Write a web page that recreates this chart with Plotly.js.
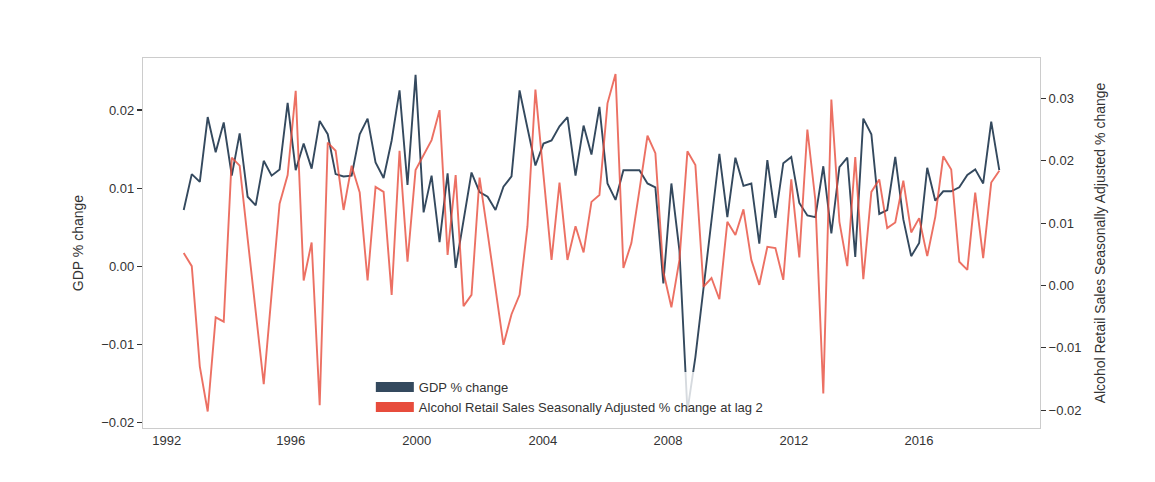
<!DOCTYPE html>
<html>
<head>
<meta charset="utf-8">
<script src="https://cdn.plot.ly/plotly-3.0.1.min.js"></script>
<style>
  html, body { margin: 0; padding: 0; background: #fff; }
  #chart { width: 1155px; height: 482px; }
</style>
</head>
<body>
<div id="chart"></div>
<script>
// quarterly series, first quarter is 1992 Q3
const firstYear = 1992;
const firstQuarter = 3;

// GDP % change (left axis)
const gdpChange = [
  0.0072, 0.0118, 0.0108, 0.0191, 0.0146, 0.0184, 0.0116, 0.0170, 0.0089, 0.0078,
  0.0135, 0.0116, 0.0124, 0.0209, 0.0123, 0.0157, 0.0125, 0.0186, 0.0169, 0.0118,
  0.0115, 0.0116, 0.0169, 0.0189, 0.0133, 0.0113, 0.0161, 0.0225, 0.0104, 0.0245,
  0.0069, 0.0116, 0.0031, 0.0119, -0.0002, 0.0059, 0.0120, 0.0095, 0.0089, 0.0072,
  0.0102, 0.0115, 0.0225, 0.0177, 0.0129, 0.0157, 0.0161, 0.0179, 0.0191, 0.0116,
  0.0180, 0.0143, 0.0204, 0.0106, 0.0085, 0.0123, 0.0123, 0.0123, 0.0106, 0.0101,
  -0.0022, 0.0106, 0.0020, -0.0185, -0.0116, -0.0028, 0.0056, 0.0144, 0.0063, 0.0139,
  0.0103, 0.0106, 0.0029, 0.0136, 0.0062, 0.0132, 0.0140, 0.0081, 0.0065, 0.0063,
  0.0128, 0.0042, 0.0127, 0.0139, 0.0012, 0.0189, 0.0169, 0.0067, 0.0072, 0.0140,
  0.0060, 0.0013, 0.0030, 0.0126, 0.0084, 0.0096, 0.0096, 0.0101, 0.0117, 0.0124,
  0.0106, 0.0185, 0.0123
];

// Alcohol retail sales, seasonally adjusted % change at lag 2 (right axis)
const alcoholChange = [
  0.0052, 0.0031, -0.0130, -0.0202, -0.0051, -0.0058, 0.0205, 0.0192, 0.0075, -0.0041,
  -0.0158, -0.0013, 0.0131, 0.0177, 0.0312, 0.0008, 0.0069, -0.0192, 0.0229, 0.0216,
  0.0121, 0.0192, 0.0149, 0.0008, 0.0158, 0.0150, -0.0015, 0.0216, 0.0038, 0.0185,
  0.0209, 0.0233, 0.0281, 0.0049, 0.0177, -0.0033, -0.0015, 0.0173, 0.0084, -0.0007,
  -0.0095, -0.0046, -0.0015, 0.0095, 0.0314, 0.0177, 0.0041, 0.0165, 0.0041, 0.0095,
  0.0053, 0.0134, 0.0145, 0.0292, 0.0339, 0.0028, 0.0068, 0.0153, 0.0240, 0.0212,
  0.0022, -0.0035, 0.0041, 0.0215, 0.0193, -0.0002, 0.0012, -0.0022, 0.0102, 0.0081,
  0.0122, 0.0041, 0.0001, 0.0062, 0.0060, 0.0009, 0.0170, 0.0045, 0.0250, 0.0137,
  -0.0173, 0.0298, 0.0102, 0.0031, 0.0206, 0.0010, 0.0150, 0.0170, 0.0092, 0.0101,
  0.0168, 0.0085, 0.0108, 0.0047, 0.0110, 0.0207, 0.0186, 0.0038, 0.0025, 0.0149,
  0.0044, 0.0165, 0.0184
];

const seriesNames = [
  'GDP % change',
  'Alcohol Retail Sales Seasonally Adjusted % change at lag 2'
];
// year labels and where the reference puts them on the time scale
const yearLabels = ['1992', '1996', '2000', '2004', '2008', '2012', '2016'];
const yearTickDates = ['1991-12-20', '1995-11-06', '1999-10-15', '2003-09-24',
                       '2007-08-22', '2011-07-31', '2015-06-28'];

// build the quarter start dates
const dates = [];
for (let i = 0; i < gdpChange.length; i++) {
  const q = firstQuarter - 1 + i;
  const y = firstYear + Math.floor(q / 4);
  const m = (q % 4) * 3 + 1;
  dates.push(y + '-' + String(m).padStart(2, '0') + '-01');
}

const navy = '#34495e';
const red = '#e74c3c';

const traces = [
  {
    x: dates, y: gdpChange, type: 'scatter', mode: 'lines',
    line: { color: navy, width: 1.9 }, showlegend: false, yaxis: 'y'
  },
  {
    x: dates, y: alcoholChange, type: 'scatter', mode: 'lines',
    line: { color: red, width: 1.9 }, opacity: 0.8, showlegend: false, yaxis: 'y2'
  },
  // legend patches only
  {
    x: [null], y: [null], type: 'scatter', mode: 'lines', name: seriesNames[0],
    line: { color: navy, width: 11 }
  },
  {
    x: [null], y: [null], type: 'scatter', mode: 'lines', name: seriesNames[1],
    line: { color: red, width: 11 }
  }
];

const fontFam = '"Liberation Sans", Arial, sans-serif';

const layout = {
  width: 1155,
  height: 482,
  margin: { l: 143, r: 115, t: 58, b: 54 },
  paper_bgcolor: '#fff',
  plot_bgcolor: '#fff',
  font: { family: fontFam, size: 13, color: '#333' },
  showlegend: true,
  legend: {
    x: 0.254, y: 0.151, xanchor: 'left', yanchor: 'top',
    bgcolor: 'rgba(255,255,255,0.8)',
    font: { family: fontFam, size: 13, color: '#333' },
    tracegroupgap: 0, itemwidth: 38
  },
  xaxis: {
    type: 'date',
    range: ['1991-03-24', '2019-04-11'],
    tickvals: yearTickDates,
    ticktext: yearLabels,
    showgrid: false, zeroline: false,
    showline: true, mirror: true, linecolor: '#cccccc', linewidth: 1.2,
    ticks: '', ticklen: 0,
    tickfont: { size: 13, color: '#333' }
  },
  yaxis: {
    range: [-0.02068, 0.02665],
    tickvals: [-0.02, -0.01, 0, 0.01, 0.02],
    tickformat: '.2f',
    showgrid: false, zeroline: false,
    showline: true, mirror: true, linecolor: '#cccccc', linewidth: 1.2,
    ticks: 'outside', ticklen: 5, tickwidth: 1.2, tickcolor: '#333',
    tickfont: { size: 13, color: '#333' },
    title: { text: 'GDP % change', font: { size: 14, color: '#333' }, standoff: 14 }
  },
  yaxis2: {
    overlaying: 'y', side: 'right', anchor: 'x',
    range: [-0.02284, 0.03646],
    tickvals: [-0.02, -0.01, 0, 0.01, 0.02, 0.03],
    tickformat: '.2f',
    showgrid: false, zeroline: false, showline: false,
    ticks: 'outside', ticklen: 5, tickwidth: 1.2, tickcolor: '#333',
    tickfont: { size: 13, color: '#333' },
    title: {
      text: 'Alcohol Retail Sales Seasonally Adjusted % change',
      font: { size: 14, color: '#333' }, standoff: 14
    }
  }
};

Plotly.newPlot('chart', traces, layout, { displayModeBar: false, staticPlot: true });
</script>
</body>
</html>
